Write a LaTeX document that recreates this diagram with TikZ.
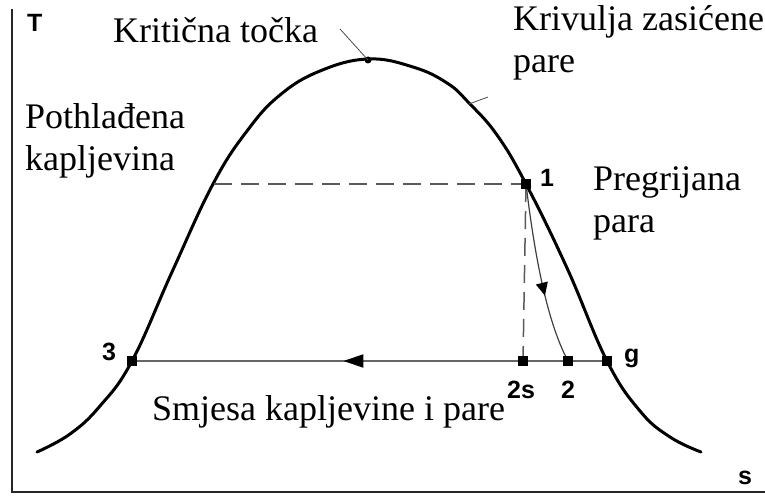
\documentclass[tikz,border=0pt]{standalone}
\usepackage{fontspec}
\setmainfont{Liberation Serif}
\newfontfamily\lblfont{Liberation Sans}
\usetikzlibrary{arrows.meta,decorations.markings}
\begin{document}
\begin{tikzpicture}[x=1pt,y=-1pt,
  axisline/.style={line width=2.8pt, draw=black!85},
  curve/.style={line width=3pt, line join=round, line cap=round},
  sq/.style={fill=black, minimum size=10pt, inner sep=0pt, shape=rectangle},
  dsh/.style={line width=1.5pt, draw=black!65, dash pattern=on 18pt off 9pt},
  thin/.style={line width=2pt, draw=black!60},
  txt/.style={font=\fontsize{36}{42}\selectfont, align=left, inner sep=0pt, anchor=base west},
  lbl/.style={font=\lblfont\bfseries\fontsize{25}{28}\selectfont, inner sep=0pt, anchor=base west},
  midarrow/.style={postaction={decorate}, decoration={markings, mark=at position #1 with {\arrow[black]{Triangle[length=20pt,width=13pt]}}}},
  midarrowb/.style={postaction={decorate}, decoration={markings, mark=at position #1 with {\arrow[black]{Triangle[length=13pt,width=12pt]}}}}]
\useasboundingbox (0,0) rectangle (765,495);

% axes
\coordinate (ytop) at (12,9);
\coordinate (orig) at (12,492);
\coordinate (xend) at (765,492);
\draw[axisline] (ytop) -- (orig) -- (xend);
\node[lbl] (T) at (27,32) {T};
\node[lbl] (s) at (738,484) {s};

% points
\coordinate (p1) at (526,184);
\coordinate (pg) at (607,361);
\coordinate (p2s) at (523,361);
\coordinate (p2) at (568,361);
\coordinate (p3) at (132,361);
\coordinate (pl) at (214,184);
\coordinate (crit) at (368,60);

% saturation curve
\draw[curve] plot[smooth, tension=0.7] coordinates {
  (37,452) (70,434) (100,406) (132,361) (172,272) (213,184)
  (247,131) (280,95) (320,71) (368,59)
  (413,67) (447,83) (469,103) (497,135) (526,184) (567,268) (607,361)
  (640,411) (670,437) (701,452)};

% dashed lines
\draw[dsh] (pl) -- (p1);
\draw[dsh] (p1) -- (p2s);

% horizontal 3 - g with arrow
\draw[thin, midarrow=0.555] (pg) -- (p3);

% expansion 1 -> 2
\draw[line width=1.2pt, draw=black!75, midarrowb=0.62] (p1) .. controls (534,250) and (546,320) .. (p2);

% critical point
\fill (crit) circle (3.5pt);
\coordinate (critlab) at (340,29);
\draw[line width=0.8pt, draw=black!70] (critlab) -- (crit);
\coordinate (kt1) at (469,104);
\coordinate (kt2) at (488,97);
\draw[line width=0.8pt, draw=black!70] (kt1) -- (kt2);

% markers
\node[sq] (n1) at (p1) {};
\node[sq] (ng) at (pg) {};
\node[sq] (n2s) at (p2s) {};
\node[sq] (n2) at (p2) {};
\node[sq] (n3) at (p3) {};

% labels
\node[lbl] (l1) at (540,186) {1};
\node[lbl] (l3) at (102,360) {3};
\node[lbl] (lg) at (624,362) {g};
\node[lbl] (l2s) at (507,398) {2s};
\node[lbl] (l2) at (561,398) {2};

% texts
\node[txt] (tk) at (113,42) {Kritična točka};
\node[txt] (tkr) at (513,72) {Krivulja zasićene\\pare};
\node[txt] (tpo) at (25,170) {Pothlađena\\kapljevina};
\node[txt] (tpr) at (593,232) {Pregrijana\\para};
\node[txt] (tsm) at (152,420) {Smjesa kapljevine i pare};
\end{tikzpicture}
\end{document}
